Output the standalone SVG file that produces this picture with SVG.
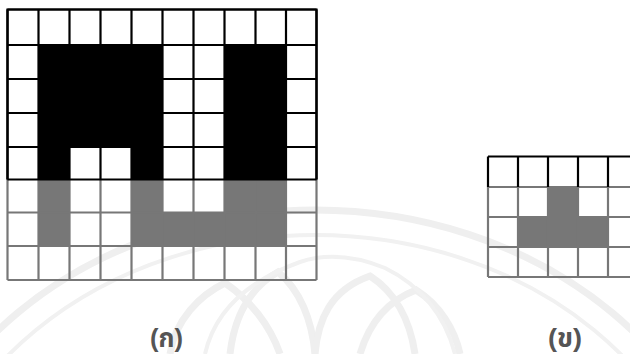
<svg xmlns="http://www.w3.org/2000/svg" width="630" height="354" viewBox="0 0 630 354">
  <style>
    .wm { fill: none; stroke: #efefef; stroke-width: 7; }
    .wm2 { fill: none; stroke: #f1f1f1; stroke-width: 4; }
    .blk { fill: #000; }
    .gry { fill: #777; }
    .lb { stroke: #000; stroke-width: 2.2; fill: none; }
    .lg { stroke: #777; stroke-width: 2.2; fill: none; }
    .lbl { font-family: "Liberation Sans", "Noto Sans Thai", "DejaVu Sans", sans-serif; font-weight: bold; font-size: 26px; fill: #555; text-anchor: middle; }
  </style>
  <rect width="630" height="354" fill="#fff"/>

  <g id="watermark">
    <ellipse class="wm" cx="315" cy="560" rx="420" ry="350" stroke-width="12"/>
    <ellipse class="wm2" cx="315" cy="560" rx="395" ry="325"/>
    <path class="wm" d="M170,354 C175,320 200,295 225,283 C250,300 270,325 280,354"/>
    <path class="wm" d="M230,354 C235,310 255,285 278,272 C300,290 312,320 315,354"/>
    <path class="wm" d="M315,354 C318,320 330,290 370,276 C395,292 410,320 415,354"/>
    <path class="wm" d="M360,354 C370,320 390,300 416,290 C440,305 455,330 460,354"/>
    <path class="wm2" d="M205,354 C215,310 250,280 300,262 C330,252 360,258 385,268 C420,285 445,315 455,354"/>
  </g>

  <g id="grid-a">
    <path class="blk" d="M38.5,45 H162.5 V179.5 H131.5 V147 H69.5 V179.5 H38.5 Z"/>
    <rect class="blk" x="224.5" y="45" width="61.5" height="134.5"/>
    <rect class="gry" x="38.5" y="179.5" width="31" height="66.5"/>
    <path class="gry" d="M131.5,179.5 H162.5 V212.5 H224.5 V179.5 H286 V246 H131.5 Z"/>
    <!-- gray lines, rows 5-7 -->
    <path class="lg" d="M7.5,212.5 H316.5 M7.5,246 H316.5 M7.5,280 H316.5
      M7.5,179.5 V280 M38.5,179.5 V280 M69.5,179.5 V280 M100.5,179.5 V280 M131.5,179.5 V280 M162.5,179.5 V280
      M193.5,179.5 V280 M224.5,179.5 V280 M255.5,179.5 V280 M286,179.5 V280 M316.5,179.5 V280"/>
    <!-- black lines, rows 0-4 -->
    <path class="lb" d="M7.5,9.5 H316.5 M7.5,45 H316.5 M7.5,79 H316.5 M7.5,113 H316.5 M7.5,147 H316.5 M7.5,179.5 H316.5
      M7.5,9.5 V179.5 M38.5,9.5 V179.5 M69.5,9.5 V179.5 M100.5,9.5 V179.5 M131.5,9.5 V179.5 M162.5,9.5 V179.5
      M193.5,9.5 V179.5 M224.5,9.5 V179.5 M255.5,9.5 V179.5 M286,9.5 V179.5 M316.5,9.5 V179.5"/>
    <path class="lb" d="M7.5,179.5 V9.5 H316.5 V179.5" stroke-width="2.8"/>
  </g>

  <g id="grid-b">
    <rect class="gry" x="548" y="187" width="30" height="30"/>
    <rect class="gry" x="518" y="217" width="90" height="30"/>
    <path class="lg" d="M488,187 H632 M488,217 H632 M488,247 H632 M488,277 H632
      M488,187 V277 M518,187 V277 M548,187 V277 M578,187 V277 M608,187 V277"/>
    <path class="lb" d="M488,156.5 H632 M488,156.5 V187 M518,156.5 V187 M548,156.5 V187 M578,156.5 V187 M608,156.5 V187"/>
  </g>

  <g id="labels">
    <text class="lbl" x="166.5" y="347" textLength="33" lengthAdjust="spacingAndGlyphs">(ก)</text>
    <text class="lbl" x="565" y="347" textLength="34" lengthAdjust="spacingAndGlyphs">(ข)</text>
  </g>
</svg>
